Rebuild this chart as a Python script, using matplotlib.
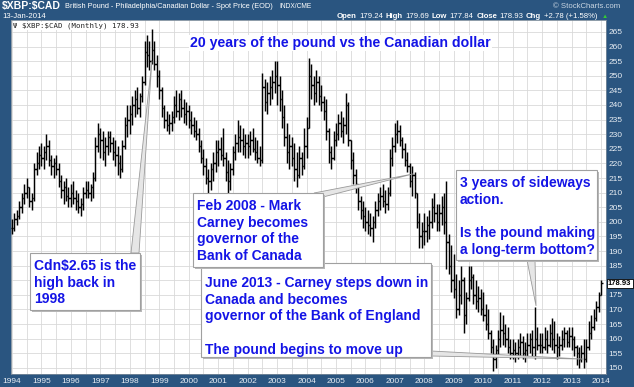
import matplotlib
matplotlib.use("Agg")
import matplotlib.pyplot as plt
from matplotlib.patches import Rectangle, Polygon
import numpy as np

plt.rcParams['font.family'] = ['Liberation Sans', 'DejaVu Sans']

## monthly bars, Jan 1994 .. Jan 2014
years = list(range(1994, 2015))

highs = [
    201, 203, 204, 207, 210, 213, 215, 212, 210, 220, 224, 226,  # 1994
    227, 226, 230, 228, 223, 222, 223, 220, 216, 214, 215, 212,  # 1995
    213, 214, 211, 210, 208, 212, 214, 214, 213, 217, 229, 234,  # 1996
    232, 231, 229, 231, 231, 229, 228, 226, 223, 228, 236, 240,  # 1997
    240, 243, 245, 246, 244, 250, 262, 264, 262, 266, 262, 257,  # 1998
    252, 246, 240, 238, 237, 238, 243, 245, 244, 245, 242, 241,  # 1999
    240, 238, 236, 235, 232, 228, 225, 222, 218, 220, 224, 228,  # 2000
    228, 229, 232, 224, 221, 220, 226, 230, 235, 233, 232, 230,  # 2001
    230, 231, 232, 229, 228, 226, 251, 249, 248, 250, 252, 255,  # 2002
    255, 250, 245, 240, 234, 230, 229, 227, 224, 226, 224, 232,  # 2003
    236, 256, 254, 250, 252, 250, 247, 243, 242, 232, 226, 231,  # 2004
    234, 237, 238, 236, 244, 241, 228, 224, 218, 213, 209, 207,  # 2005
    205, 204, 203, 202, 207, 210, 212, 213, 211, 212, 225, 229,  # 2006
    234, 235, 233, 229, 227, 224, 220, 219, 217, 210, 203, 200,  # 2007
    203, 202, 204, 208, 210, 206, 206, 209, 210, 214, 196, 192,  # 2008
    189, 182, 180, 185, 181, 176, 185, 185, 182, 180, 178, 177,  # 2009
    176, 172, 170, 163, 160, 158, 163, 169, 168, 165, 164, 160,  # 2010
    160, 159, 160, 162, 161, 159, 162, 162, 163, 171, 164, 162,  # 2011
    162, 164, 163, 165, 167, 166, 162, 161, 163, 164, 163, 164,  # 2012
    164, 161, 158, 157, 158, 160, 160, 166, 168, 170, 173, 176,  # 2013
    180,                                                         # 2014
]

lows = [
    196, 197, 199, 201, 203, 206, 208, 205, 204, 207, 216, 218,
    219, 218, 221, 219, 216, 215, 216, 212, 208, 206, 207, 205,
    205, 206, 204, 203, 202, 204, 208, 208, 207, 208, 214, 224,
    222, 221, 219, 223, 224, 221, 219, 216, 215, 217, 225, 229,
    230, 233, 236, 237, 236, 241, 247, 253, 252, 254, 252, 246,
    242, 236, 232, 231, 230, 231, 234, 236, 235, 236, 234, 233,
    232, 230, 229, 228, 224, 220, 216, 213, 210, 211, 214, 217,
    219, 221, 219, 214, 210, 211, 216, 221, 224, 224, 223, 222,
    222, 223, 224, 221, 220, 219, 220, 238, 237, 240, 242, 244,
    240, 238, 232, 226, 220, 218, 219, 214, 212, 215, 216, 218,
    222, 232, 242, 240, 241, 240, 238, 235, 228, 220, 218, 221,
    226, 228, 229, 227, 230, 226, 218, 213, 210, 204, 201, 198,
    197, 196, 195, 193, 198, 202, 204, 205, 203, 204, 209, 219,
    224, 227, 226, 222, 219, 217, 212, 209, 208, 198, 191, 191,
    192, 193, 194, 198, 200, 197, 197, 199, 196, 184, 182, 176,
    174, 167, 168, 172, 162, 165, 173, 177, 172, 170, 169, 168,
    166, 163, 160, 155, 149, 150, 154, 157, 158, 157, 155, 153,
    153, 152, 153, 154, 153, 152, 154, 155, 154, 153, 156, 155,
    155, 156, 155, 157, 156, 155, 153, 154, 156, 157, 157, 157,
    156, 154, 151, 150, 152, 150, 152, 156, 160, 163, 166, 169,
    175,
]

closes = [
    198, 201, 202, 205, 208, 210, 212, 207, 208, 218, 220, 223,
    222, 224, 226, 221, 219, 220, 218, 214, 211, 212, 209, 208,
    210, 208, 207, 205, 206, 210, 211, 210, 212, 215, 226, 230,
    228, 224, 226, 229, 227, 224, 223, 220, 218, 226, 233, 235,
    237, 240, 242, 239, 243, 248, 258, 257, 255, 259, 254, 250,
    245, 239, 235, 233, 234, 236, 240, 238, 242, 239, 237, 238,
    235, 233, 231, 230, 226, 222, 219, 215, 214, 218, 220, 224,
    225, 223, 222, 217, 214, 218, 224, 227, 229, 228, 226, 227,
    226, 228, 225, 224, 222, 221, 246, 241, 244, 246, 248, 250,
    247, 242, 236, 229, 224, 226, 222, 218, 216, 222, 219, 226,
    232, 250, 247, 244, 248, 243, 241, 238, 231, 224, 222, 228,
    230, 234, 231, 233, 240, 228, 221, 216, 213, 207, 204, 202,
    200, 199, 198, 200, 204, 207, 209, 207, 206, 210, 222, 226,
    230, 231, 228, 225, 221, 219, 214, 216, 210, 200, 195, 197,
    197, 199, 200, 205, 203, 200, 203, 205, 200, 193, 185, 180,
    177, 170, 175, 180, 168, 174, 180, 181, 175, 173, 174, 170,
    168, 165, 162, 157, 153, 156, 160, 163, 162, 160, 157, 155,
    156, 155, 157, 159, 155, 156, 158, 160, 157, 160, 158, 158,
    157, 160, 158, 162, 160, 158, 157, 158, 160, 162, 159, 161,
    160, 157, 155, 153, 155, 153, 157, 162, 164, 167, 171, 175,
    178.93,
]
first_open = 198
last_close = 178.93

## header quote
quote = [("Open", "179.24"), ("High", "179.69"), ("Low", "177.84"), ("Close", "178.93")]
chg = "+2.78 (+1.58%)"

W, H = 634, 387
bg = '#2a5580'
blue = '#1414e6'

opens = [first_open] + closes[:-1]
idx = np.arange(len(closes))
hi = np.maximum(np.maximum(highs, opens), closes)
lo = np.minimum(np.minimum(lows, opens), closes)

fig = plt.figure(figsize=(W / 100, H / 100), dpi=100, facecolor=bg)
ax = fig.add_axes([11 / W, 13 / H, 595 / W, 354 / H])
ax.set_facecolor('white')
ax.set_xlim(-0.4, 242.0)
ax.set_ylim(147.9, 269.1)

ax.vlines(idx, lo, hi, color='black', lw=1.05, zorder=3)
ax.hlines(opens, idx - 0.6, idx, color='black', lw=1.0, zorder=3)
ax.hlines(closes, idx, idx + 0.6, color='black', lw=1.0, zorder=3)

ax.set_xticks([12 * k for k in range(len(years))])
ax.set_xticklabels([str(y) for y in years])
ax.set_xticks(range(0, 241, 6), minor=True)
yt = list(range(150, 266, 5))
ax.set_yticks(yt)
# the last-price tag sits on top of the 180 label
ax.set_yticklabels(['' if v == 180 else str(v) for v in yt])
ax.yaxis.tick_right()
ax.tick_params(axis='both', which='both', length=0, labelsize=6,
               labelcolor='#e8eef4', pad=2)
ax.tick_params(axis='x', pad=3)
ax.grid(True, which='both', color='#d9d9d9', lw=0.6)
ax.set_axisbelow(True)
for s in ax.spines.values():
    s.set_color('#7a8a9a')
    s.set_linewidth(0.6)

ax.text(0.004, 0.993, "\u03a8 $XBP:$CAD (Monthly) %.2f" % last_close,
        transform=ax.transAxes, ha='left', va='top', fontsize=5.3,
        family='DejaVu Sans Mono', color='#222222', parse_math=False,
        bbox=dict(facecolor='white', edgecolor='none', pad=0.5), zorder=5)


def fpx(x, y):
    return (x / W, 1 - y / H)


def data_px(i, v):
    d = ax.transData.transform((i, v))
    return d[0], H - d[1]


def callout(x0, y0, x1, y1, text, base, tip, z, top_pad=5):
    if tip is not None:
        tx, ty = data_px(*tip)
        pts = [fpx(*base[0]), fpx(*base[1]), fpx(tx, ty)]
        fig.patches.append(Polygon(pts, closed=True, transform=fig.transFigure,
                                   facecolor='#e6e6e6', edgecolor='#9a9a9a',
                                   lw=0.6, zorder=z))
    fig.patches.append(Rectangle(fpx(x0 + 2, y1 + 2), (x1 - x0) / W, (y1 - y0) / H,
                                 transform=fig.transFigure, facecolor='#b8b8b8',
                                 edgecolor='none', zorder=z + 0.1))
    fig.patches.append(Rectangle(fpx(x0, y1), (x1 - x0) / W, (y1 - y0) / H,
                                 transform=fig.transFigure, facecolor='white',
                                 edgecolor='#a0a0a0', lw=0.8, zorder=z + 0.2))
    fig.text(*fpx(x0 + 4, y0 + top_pad), text, ha='left', va='top', fontsize=10,
             weight='bold', color=blue, linespacing=1.24, zorder=z + 0.3,
             parse_math=False)


fig.text(*fpx(190, 43), "20 years of the pound vs the Canadian dollar",
         ha='left', va='center', fontsize=10.2, weight='bold', color=blue,
         bbox=dict(facecolor='white', edgecolor='none', pad=1), zorder=10)

callout(201, 263, 431, 357,
        "June 2013 - Carney steps down in\nCanada and becomes\n"
        "governor of the Bank of England\n\nThe pound begins to move up",
        [(431, 351), (431, 356)], (233, 153.0), 10, top_pad=13)
callout(193, 193, 323, 267,
        "Feb 2008 - Mark\nCarney becomes\ngovernor of the\nBank of Canada",
        [(314, 193), (323, 197)], (163.4, 216.4), 11, top_pad=6)
callout(30, 253, 140, 310, "Cdn$2.65 is the\nhigh back in\n1998",
        [(131, 253), (139, 253)], (57, 255.0), 12, top_pad=6)
callout(456, 170, 597, 260,
        "3 years of sideways\naction.\n\nIs the pound making\na long-term bottom?",
        [(527, 260), (535, 260)], (213.5, 171.2), 13, top_pad=6)

## last price tag
_, py = data_px(240, last_close)
fig.text(*fpx(608, py), "%.2f" % last_close, ha='left', va='center', fontsize=5.5,
         weight='bold', color='black',
         bbox=dict(facecolor='white', edgecolor='black', lw=0.6, pad=0.8), zorder=20)

## header
fig.text(*fpx(2, 6), "$XBP:$CAD", ha='left', va='center', fontsize=7.5,
         weight='bold', color='white', parse_math=False)
fig.text(*fpx(65, 6), "British Pound - Philadelphia/Canadian Dollar - Spot Price (EOD)",
         ha='left', va='center', fontsize=5.3, color='white')
fig.text(*fpx(279, 6), "INDX/CME", ha='left', va='center', fontsize=4.8, color='white')
fig.text(*fpx(620, 6), "\u00a9 StockCharts.com", ha='right', va='center',
         fontsize=5.6, color='#c9d5e2')
fig.text(*fpx(2, 17), "13-Jan-2014", ha='left', va='center', fontsize=5.6, color='white')

r = fig.canvas.get_renderer()
x = 337
for lab, val in quote + [("Chg", chg)]:
    for s, w in ((lab, 'bold'), (val, 'normal')):
        t = fig.text(*fpx(x, 17), s, ha='left', va='center', fontsize=5.6,
                     weight=w, color='white')
        x += t.get_window_extent(renderer=r).width + 2.5
fig.text(*fpx(x + 2, 17), "\u25b2", ha='left', va='center', fontsize=4.5, color='#33cc33')

fig.savefig("out.png", dpi=100, facecolor=bg)
